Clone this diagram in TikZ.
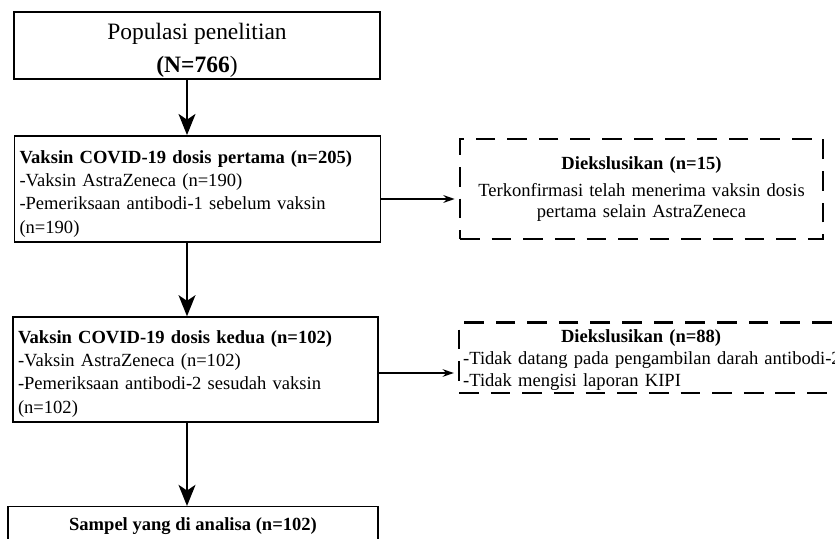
\documentclass[tikz,border=0pt]{standalone}
\usepackage{fontspec}
\setmainfont{Liberation Serif}
\usepackage{tikz}
\usetikzlibrary{arrows.meta}

\newcommand{\bodysize}{\fontsize{13.2}{16.6}\selectfont}
\newcommand{\titlesize}{\fontsize{16.7}{23}\selectfont}
\newcommand{\lowered}[2][3.5pt]{\raisebox{-#1}[\height][\depth]{#2}}

\begin{document}
\begin{tikzpicture}[
  solidbox/.style={draw,line width=1.4pt,inner xsep=.125cm,font=\bodysize},
  dashbox/.style={draw,line width=1.6pt,dash pattern=on 14pt off 8.5pt,inner xsep=.125cm,font=\bodysize},
  mainarrow/.style={line width=1.8pt,-{Stealth[length=15pt,width=12pt,inset=4pt]}},
  sidearrow/.style={line width=.9pt,-{Stealth[length=8pt,width=5.5pt]},shorten >=3pt}]

\clip (0,0) rectangle (20.875,-13.45);

\begin{scope}
\node[solidbox,minimum width=9.15cm,minimum height=1.675cm,inner ysep=2pt,align=center,font=\titlesize] (pop) at (4.925,-1.1375) {\lowered{Populasi penelitian}\\\lowered{\textbf{(N=766})} };
\node[solidbox,text width=8.9cm,minimum height=2.6cm,align=left] (dose1) at (4.9375,-4.725) {\rule{0pt}{16pt}\textbf{Vaksin COVID-19 dosis pertama (n=205)}\\-Vaksin AstraZeneca (n=190)\\-Pemeriksaan antibodi-1 sebelum vaksin\\(n=190)};
\node[dashbox,text width=8.825cm,minimum height=2.5cm,align=center] (excl1) at (16.0375,-4.725) {\textbf{Diekslusikan (n=15)}\\[3pt]Terkonfirmasi telah menerima vaksin dosis\\[-2pt]pertama selain AstraZeneca};
\node[solidbox,text width=8.875cm,minimum height=2.575cm,align=left] (dose2) at (4.8875,-9.2375) {\rule{0pt}{15pt}\textbf{Vaksin COVID-19 dosis kedua (n=102)}\\-Vaksin AstraZeneca (n=102)\\-Pemeriksaan antibodi-2 sesudah vaksin\\(n=102)};
\node[dashbox,text width=10.3cm,minimum height=1.75cm,align=left,inner xsep=.1cm,anchor=west] (excl2) at (11.45,-8.94) {\lowered[2pt]{\makebox[8.9cm]{\textbf{Diekslusikan (n=88)}}}\\[-1pt]\lowered[2pt]{-Tidak datang pada pengambilan darah antibodi-2}\\[-1pt]\lowered[1.5pt]{-Tidak mengisi laporan KIPI}};
\node[solidbox,line width=.8pt,minimum width=9.25cm,inner ysep=8pt,anchor=north] (sample) at (4.825,-12.65) {\textbf{Sampel yang di analisa (n=102)}};

\coordinate (spine) at (4.675,0);
\coordinate (row1) at (0,-4.975);
\coordinate (row2) at (0,-9.325);

\draw[mainarrow] (pop.south -| spine) -- (dose1.north -| spine);
\draw[mainarrow] (dose1.south -| spine) -- (dose2.north -| spine);
\draw[mainarrow] (dose2.south -| spine) -- (sample.north -| spine);
\draw[sidearrow] (dose1.east |- row1) -- (excl1.west |- row1);
\draw[sidearrow] (dose2.east |- row2) -- (excl2.west |- row2);
\end{scope}
\end{tikzpicture}
\end{document}
